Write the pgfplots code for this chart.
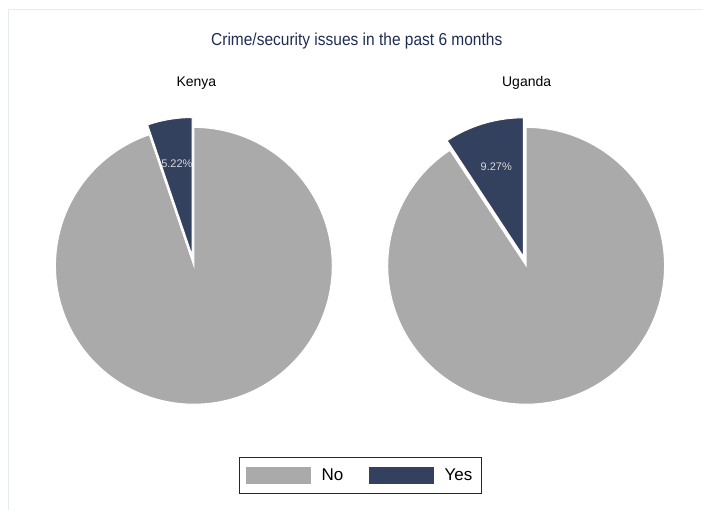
\documentclass[border=0pt]{standalone}
\usepackage{pgfplots}
\pgfplotsset{compat=1.18}
\usepackage{fontspec}
\setmainfont{Liberation Sans}
\definecolor{nogray}{HTML}{AAAAAA}
\definecolor{yesnavy}{HTML}{33415F}
\definecolor{titlenavy}{HTML}{1F2D52}
\definecolor{lbl}{HTML}{D8D8D8}
\definecolor{frame}{HTML}{E6ECEE}
% shares of "Yes" (percent)
\def\kenyaYes{5.22}
\def\ugandaYes{9.27}
% geometry (image pixels = bp)
\def\kx{194}\def\ux{526.5}\def\cy{244}\def\rr{138.5}\def\ex{10}
\pgfmathsetmacro\kb{90+3.6*\kenyaYes}
\pgfmathsetmacro\ub{90+3.6*\ugandaYes}
\pgfmathsetmacro\km{90+1.8*\kenyaYes}
\pgfmathsetmacro\um{90+1.8*\ugandaYes}
\pgfmathsetmacro\kox{\kx+\ex*cos(\km)}
\pgfmathsetmacro\koy{\cy+\ex*sin(\km)}
\pgfmathsetmacro\uox{\ux+\ex*cos(\um)}
\pgfmathsetmacro\uoy{\cy+\ex*sin(\um)}
\pgfmathsetmacro\klx{\kx+104*cos(\km)}
\pgfmathsetmacro\kly{\cy+104*sin(\km)}
\pgfmathsetmacro\ulx{\ux+104*cos(\um)}
\pgfmathsetmacro\uly{\cy+104*sin(\um)}
\begin{document}
\begin{tikzpicture}
\begin{axis}[
  width=703bp, height=510bp, scale only axis,
  xmin=0, xmax=703, ymin=0, ymax=510,
  hide axis, clip=false,
  legend style={at={(axis cs:360.5,34.2)}, anchor=center, draw=black!85,
    line width=0.8bp, inner xsep=7bp, inner ysep=9.5bp,
    font=\fontsize{17bp}{19bp}\selectfont,
    /tikz/every even column/.append style={column sep=24bp}},
  legend columns=2,
  legend image code/.code={\fill[#1, draw=none] (0bp,-8.3bp) rectangle (65bp,8.3bp);
    \path (73bp,0bp);},
]
\path (axis cs:0,0) rectangle (axis cs:703,510);
\draw[frame, line width=1bp] (axis cs:9,0) -- (axis cs:9,500) -- (axis cs:703,500);
% Kenya
\addplot[fill=nogray, draw=white, line width=1bp, domain=\kb:450, samples=240, variable=\t]
  ({\kx+\rr*cos(t)},{\cy+\rr*sin(t)}) -- (axis cs:\kx,\cy) -- cycle;
\addlegendentry{No}
\addplot[fill=yesnavy, draw=white, line width=1bp, domain=90:\kb, samples=40, variable=\t]
  ({\kox+\rr*cos(t)},{\koy+\rr*sin(t)}) -- (axis cs:\kox,\koy) -- cycle;
\addlegendentry{Yes}
% Uganda
\addplot[forget plot, fill=nogray, draw=white, line width=1bp, domain=\ub:450, samples=240, variable=\t]
  ({\ux+\rr*cos(t)},{\cy+\rr*sin(t)}) -- (axis cs:\ux,\cy) -- cycle;
\addplot[forget plot, fill=yesnavy, draw=white, line width=1bp, domain=90:\ub, samples=60, variable=\t]
  ({\uox+\rr*cos(t)},{\uoy+\rr*sin(t)}) -- (axis cs:\uox,\uoy) -- cycle;
% labels
\node[lbl, font=\fontsize{11bp}{13bp}\selectfont] at (axis cs:\klx,\kly) {5.22\%};
\node[lbl, font=\fontsize{11bp}{13bp}\selectfont] at (axis cs:\ulx,\uly) {9.27\%};
\node[titlenavy, font=\fontsize{16.5bp}{19bp}\selectfont] at (axis cs:357,469) {\scalebox{0.94}[1.05]{Crime/security issues in the past 6 months}};
\node[black, font=\fontsize{14bp}{16bp}\selectfont] at (axis cs:196.5,427) {Kenya};
\node[black, font=\fontsize{14bp}{16bp}\selectfont] at (axis cs:527,427) {Uganda};
\end{axis}
\end{tikzpicture}
\end{document}
